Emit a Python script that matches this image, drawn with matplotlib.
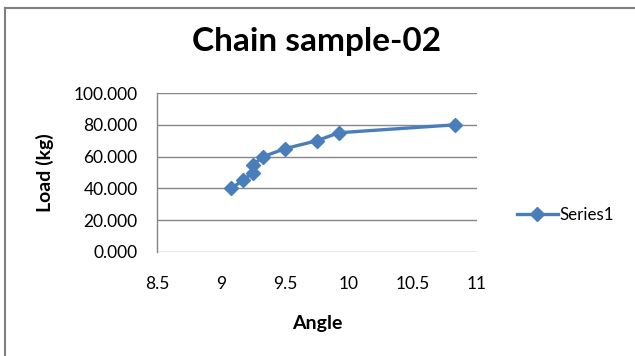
import matplotlib
matplotlib.use("Agg")
import matplotlib.pyplot as plt
from matplotlib.lines import Line2D

# Load vs angle measurements for chain sample 02
angle = [9.08, 9.17, 9.25, 9.25, 9.33, 9.5, 9.75, 9.92, 10.83]
load = [40, 45, 50, 55, 60, 65, 70, 75, 80]
x_ticks = [8.5, 9, 9.5, 10, 10.5, 11]
y_ticks = [0, 20, 40, 60, 80, 100]

W, H = 635, 356
DPI = 100
plt.rcParams['font.family'] = ['Lato', 'DejaVu Sans']

fig = plt.figure(figsize=(W / DPI, H / DPI), dpi=DPI)
fig.patch.set_facecolor('white')

def fx(px):
    return px / W

def fy(py):
    return 1 - py / H

ax = fig.add_axes([fx(157), fy(252), fx(477) - fx(157), fy(93) - fy(252)])

blue = '#4A7EBB'
grid_c = '#868686'

ax.plot(angle, load, color=blue, linewidth=2.4, marker='D', markersize=7.5,
        markerfacecolor=blue, markeredgecolor=blue, label='Series1',
        solid_joinstyle='round', zorder=3)

ax.set_xlim(8.5, 11)
ax.set_ylim(0, 100)
ax.set_xticks(x_ticks)
ax.set_xticklabels([f"{v:g}" for v in x_ticks])
ax.set_yticks(y_ticks)
ax.set_yticklabels([f"{v:.3f}" for v in y_ticks])
ax.tick_params(axis='both', length=0, labelsize=12.5, colors='black')
ax.tick_params(axis='y', pad=14)
ax.tick_params(axis='x', pad=17)

ax.yaxis.grid(True, color=grid_c, linewidth=1)
ax.set_axisbelow(True)
for side in ['top', 'right', 'bottom']:
    ax.spines[side].set_visible(False)
ax.spines['left'].set_color(grid_c)
ax.spines['left'].set_linewidth(1)

fig.text(fx(317), fy(42), 'Chain sample-02', ha='center', va='center',
         fontsize=24, fontweight='bold')
fig.text(fx(317), fy(323), 'Angle', ha='center', va='center',
         fontsize=14, fontweight='bold')
fig.text(fx(45), fy(173), 'Load (kg)', ha='center', va='center',
         rotation=90, fontsize=14, fontweight='bold')

leg = ax.legend(loc='center left', bbox_to_anchor=(fx(517), fy(215)),
                bbox_transform=fig.transFigure, frameon=False,
                fontsize=12.2, handlelength=2.4, handletextpad=0.1,
                borderaxespad=0, borderpad=0)

# Chart border (top and left edges)
fig.add_artist(Line2D([fx(5), fx(5)], [fy(8), 0], color='#808080', linewidth=1.5))
fig.add_artist(Line2D([fx(5), 1], [fy(8), fy(8)], color='#808080', linewidth=1.5))

fig.savefig('out.png', dpi=DPI, facecolor='white')
